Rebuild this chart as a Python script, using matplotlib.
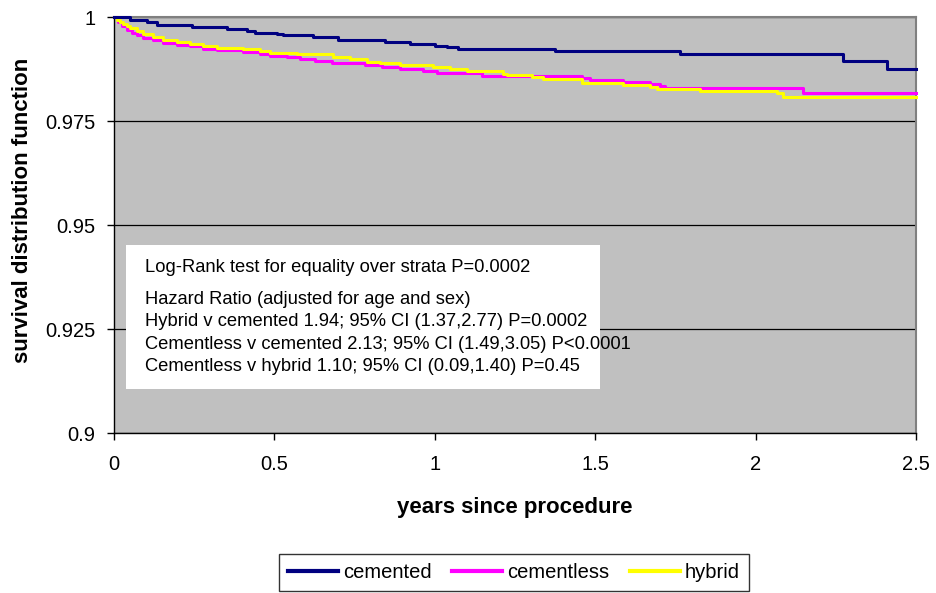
import matplotlib
matplotlib.use("Agg")
import matplotlib.pyplot as plt
from matplotlib.patches import Rectangle

plt.rcParams['font.family'] = ['Liberation Sans', 'DejaVu Sans']

# Kaplan-Meier step curves (years, survival)
cemented_t = [0, 0.050, 0.103, 0.134, 0.243, 0.352, 0.415, 0.440, 0.508, 0.527,
              0.620, 0.698, 0.845, 0.923, 1.001, 1.038, 1.072, 1.375, 1.764,
              2.272, 2.410, 2.5]
cemented_s = [1.0, 0.9992, 0.9987, 0.9982, 0.9976, 0.9971, 0.9966, 0.9962, 0.9959,
              0.9956, 0.9951, 0.9945, 0.9940, 0.9936, 0.9931, 0.9927, 0.9922,
              0.9918, 0.9910, 0.9894, 0.9875, 0.9875]

cementless_t = [0, 0.0125, 0.025, 0.0405, 0.056, 0.0717, 0.0904, 0.1216, 0.1527,
                0.1964, 0.2369, 0.2774, 0.3211, 0.4021, 0.4551, 0.4863, 0.5393,
                0.5798, 0.6266, 0.6796, 0.7824, 0.8354, 0.8915, 0.9632, 1.0069,
                1.1471, 1.4589, 1.4838, 1.5866, 1.6708, 1.7020, 1.7176, 2.1478, 2.5]
cementless_s = [1.0, 0.99873, 0.99777, 0.99681, 0.99621, 0.99573, 0.99506, 0.99442,
                0.99387, 0.99339, 0.99298, 0.99243, 0.99202, 0.99161, 0.99123,
                0.99065, 0.99027, 0.98986, 0.98946, 0.98883, 0.98835, 0.98802,
                0.98747, 0.98699, 0.98658, 0.98591, 0.98531, 0.98483, 0.98435,
                0.98387, 0.98339, 0.98291, 0.98172, 0.98172]

hybrid_t = [0, 0.0094, 0.0187, 0.0281, 0.0405, 0.0499, 0.0717, 0.0904, 0.1216,
            0.1527, 0.1964, 0.2369, 0.2774, 0.3211, 0.4021, 0.4551, 0.4863,
            0.5705, 0.6827, 0.7357, 0.7887, 0.8292, 0.8915, 0.9944, 1.0474,
            1.1004, 1.2126, 1.2251, 1.3030, 1.3373, 1.4589, 1.5866, 1.6708,
            1.6926, 1.8267, 2.0667, 2.0854, 2.5]
hybrid_s = [1.0, 0.99933, 0.99885, 0.99842, 0.99789, 0.99746, 0.99665, 0.99602,
            0.99521, 0.99458, 0.99401, 0.99363, 0.99305, 0.99267, 0.99226,
            0.99185, 0.99147, 0.99099, 0.99027, 0.98986, 0.98922, 0.98883,
            0.98843, 0.98787, 0.98740, 0.98699, 0.98639, 0.98610, 0.98562,
            0.98514, 0.98418, 0.98370, 0.98323, 0.98267, 0.98227, 0.98164,
            0.98076, 0.98076]

yticks = [0.9, 0.925, 0.95, 0.975, 1.0]
ytick_labels = ['0.9', '0.925', '0.95', '0.975', '1']
xticks = [0, 0.5, 1, 1.5, 2, 2.5]
xtick_labels = ['0', '0.5', '1', '1.5', '2', '2.5']

box_lines = [
    "Log-Rank test for equality over strata P=0.0002",
    "Hazard Ratio (adjusted for age and sex)",
    "Hybrid v cemented 1.94; 95% CI (1.37,2.77) P=0.0002",
    "Cementless v cemented 2.13; 95% CI (1.49,3.05) P<0.0001",
    "Cementless v hybrid 1.10; 95% CI (0.09,1.40) P=0.45",
]


def main():
    fig = plt.figure(figsize=(9.36, 5.93), dpi=100)
    ax = fig.add_axes([0.1218, 0.2698, 0.8568, 0.7015])
    ax.set_facecolor('#C0C0C0')

    ax.plot(cemented_t, cemented_s, drawstyle='steps-post', color='#000080',
            lw=2.2, label='cemented', clip_on=False, zorder=4)
    ax.plot(cementless_t, cementless_s, drawstyle='steps-post', color='#FF00FF',
            lw=2.2, label='cementless', clip_on=False, zorder=3)
    ax.plot(hybrid_t, hybrid_s, drawstyle='steps-post', color='#FFFF00',
            lw=2.2, label='hybrid', clip_on=False, zorder=3.5)

    ax.set_xlim(0, 2.5)
    ax.set_ylim(0.9, 1.0)
    ax.set_xticks(xticks)
    ax.set_xticklabels(xtick_labels)
    ax.set_yticks(yticks)
    ax.set_yticklabels(ytick_labels)
    ax.yaxis.grid(True, color='black', lw=0.9)
    ax.set_axisbelow(True)

    ax.tick_params(axis='both', direction='out', length=5, width=1,
                   color='black', labelsize=14.5)
    ax.tick_params(axis='y', pad=8.5)
    ax.tick_params(axis='x', pad=10.5)

    for side in ['top', 'right']:
        ax.spines[side].set_color('#808080')
        ax.spines[side].set_linewidth(1.5)
    for side in ['left', 'bottom']:
        ax.spines[side].set_color('black')
        ax.spines[side].set_linewidth(1)

    ax.set_xlabel('years since procedure', fontsize=16, fontweight='bold')
    ax.xaxis.set_label_coords(0.5, -0.154)
    ax.set_ylabel('survival distribution function', fontsize=16,
                  fontweight='bold')
    ax.yaxis.set_label_coords(-0.101, 0.536)

    # annotation box
    ax.add_patch(Rectangle((0.015, 0.106), 0.591, 0.346, transform=ax.transAxes,
                           facecolor='white', edgecolor='none', zorder=5))
    ys = [0.397, 0.322, 0.267, 0.212, 0.159]
    for txt, yy in zip(box_lines, ys):
        ax.text(0.0387, yy, txt, transform=ax.transAxes, fontsize=13.2,
                va='center', ha='left', zorder=6)

    leg = fig.legend(loc='center', bbox_to_anchor=(0.549, 0.035), ncol=3,
                     fontsize=14.5, frameon=True, fancybox=False,
                     edgecolor='black', handlelength=2.5, handletextpad=0.25,
                     columnspacing=1.0, borderpad=0.45, borderaxespad=0)
    leg.get_frame().set_linewidth(1)
    for line in leg.get_lines():
        line.set_linewidth(3)

    fig.savefig('out.png', dpi=100)


if __name__ == "__main__":
    main()
